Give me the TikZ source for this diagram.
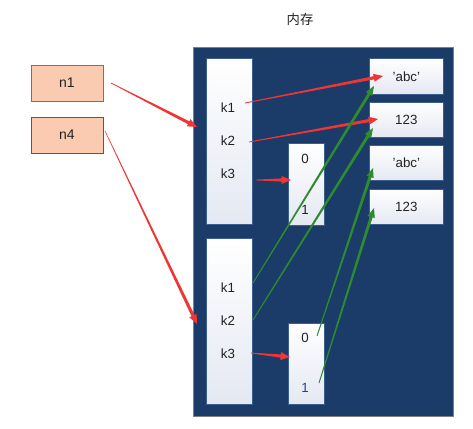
\documentclass[tikz,border=0pt]{standalone}
\usepackage{fontspec}
\setmainfont{Liberation Sans}
\newfontfamily\cjk{Noto Sans CJK SC}
\usetikzlibrary{calc}
\definecolor{navy}{HTML}{1B3B69}
\definecolor{boxline}{HTML}{3A5F8E}
\definecolor{boxbot}{HTML}{E4E8F2}
\definecolor{peach}{HTML}{FBCBB1}
\definecolor{arrred}{HTML}{F03535}
\definecolor{arrgreen}{HTML}{2E8B2E}
\definecolor{txt}{HTML}{222222}
\definecolor{bluetxt}{HTML}{2B3F8F}
\newcommand\myarrow[5]{% start, end, colour, tip width, start width
  \coordinate (ab) at ($(#2)!7pt!(#1)$);
  \fill[#3] ($(#1)!#5!90:(#2)$) -- ($(ab)!#4*0.4pt!-90:(#1)$) -- ($(ab)!#4*1pt!-90:(#1)$) -- (#2)
    -- ($(ab)!#4*1pt!90:(#1)$) -- ($(ab)!#4*0.4pt!90:(#1)$) -- ($(#1)!#5!-90:(#2)$) -- cycle;}
\begin{document}
\begin{tikzpicture}[x=0.75pt,y=-0.75pt,
  every node/.style={font=\fontsize{10}{12}\selectfont,text=txt,inner sep=0pt},
  varbox/.style={draw=#1,line width=0.6pt,fill=peach,minimum width=54pt,minimum height=27pt,font=\fontsize{10.5}{12}\selectfont},
  membox/.style={draw=boxline,line width=0.5pt,top color=white,bottom color=boxbot,anchor=north west},
  lbl/.style={font=\fontsize{10}{12}\selectfont}
]
\useasboundingbox (0,0) rectangle (473,428);
\node[font=\cjk\fontsize{10}{12}\selectfont] (title) at (300,19) {内存};
% memory area
\fill[navy] (193,47) rectangle (453,416);
\draw[gray,line width=0.6pt] (193,47) rectangle (453,416);
% variables
\node[varbox=gray!90!black] (n1) at (67,83) {n1};
\node[varbox=boxline] (n4) at (67,135) {n4};
% upper dict
\node[membox,minimum width=34.5pt,minimum height=124.5pt] (d1) at (206,58) {};
\node[lbl] (d1k1) at (228,108) {k1};
\node[lbl] (d1k2) at (228,141) {k2};
\node[lbl] (d1k3) at (228,174) {k3};
% upper list
\node[membox,minimum width=27pt,minimum height=61.5pt] (l1) at (288,143) {};
\node[lbl] (l1a) at (305,159) {0};
\node[lbl] (l1b) at (305,210) {1};
% right values
\node[membox,minimum width=55.5pt,minimum height=27pt] (v1) at (369,58) {};
\node[lbl] at (v1.center) {'abc'};
\node[membox,minimum width=55.5pt,minimum height=26.5pt] (v2) at (369,102) {};
\node[lbl] at (v2.center) {123};
\node[membox,minimum width=55.5pt,minimum height=26.5pt] (v3) at (369,145) {};
\node[lbl] at (v3.center) {'abc'};
\node[membox,minimum width=55.5pt,minimum height=26pt] (v4) at (369,189) {};
\node[lbl] at (v4.center) {123};
% lower dict
\node[membox,minimum width=34.5pt,minimum height=124.5pt] (d2) at (206,238) {};
\node[lbl] (d2k1) at (228,288) {k1};
\node[lbl] (d2k2) at (228,321) {k2};
\node[lbl] (d2k3) at (228,354) {k3};
% lower list
\node[membox,minimum width=27pt,minimum height=61pt] (l2) at (288,323) {};
\node[lbl] (l2a) at (305,338) {0};
\node[lbl,text=bluetxt] (l2b) at (305,388) {1};
% connector end points
\coordinate (s1) at (111,83);   \coordinate (e1) at (197,127);
\coordinate (s2) at (105,131);  \coordinate (e2) at (197,324);
\coordinate (s3) at (245,103);  \coordinate (e3) at (383,76);
\coordinate (s4) at (249,142);  \coordinate (e4) at (378,119);
\coordinate (s5) at (256,180);  \coordinate (e5) at (291,180);
\coordinate (s6) at (251,353);  \coordinate (e6) at (290,357);
\coordinate (g1s) at (253,283); \coordinate (g1e) at (374,86);
\coordinate (g2s) at (253,320); \coordinate (g2e) at (373,128);
\coordinate (g3s) at (317,336); \coordinate (g3e) at (373,168);
\coordinate (g4s) at (319,383); \coordinate (g4e) at (374,208);
% red arrows
\myarrow{s1}{e1}{arrred}{3}{0.25pt}
\myarrow{s2}{e2}{arrred}{3}{0.2pt}
\myarrow{s3}{e3}{arrred}{3}{0.3pt}
\myarrow{s4}{e4}{arrred}{3}{0.3pt}
\myarrow{s5}{e5}{arrred}{3}{0.3pt}
\myarrow{s6}{e6}{arrred}{3}{0.3pt}
% green arrows
\myarrow{g1s}{g1e}{arrgreen}{2.8}{0.35pt}
\myarrow{g2s}{g2e}{arrgreen}{2.8}{0.35pt}
\myarrow{g3s}{g3e}{arrgreen}{2.8}{0.35pt}
\myarrow{g4s}{g4e}{arrgreen}{2.8}{0.35pt}
\end{tikzpicture}
\end{document}
